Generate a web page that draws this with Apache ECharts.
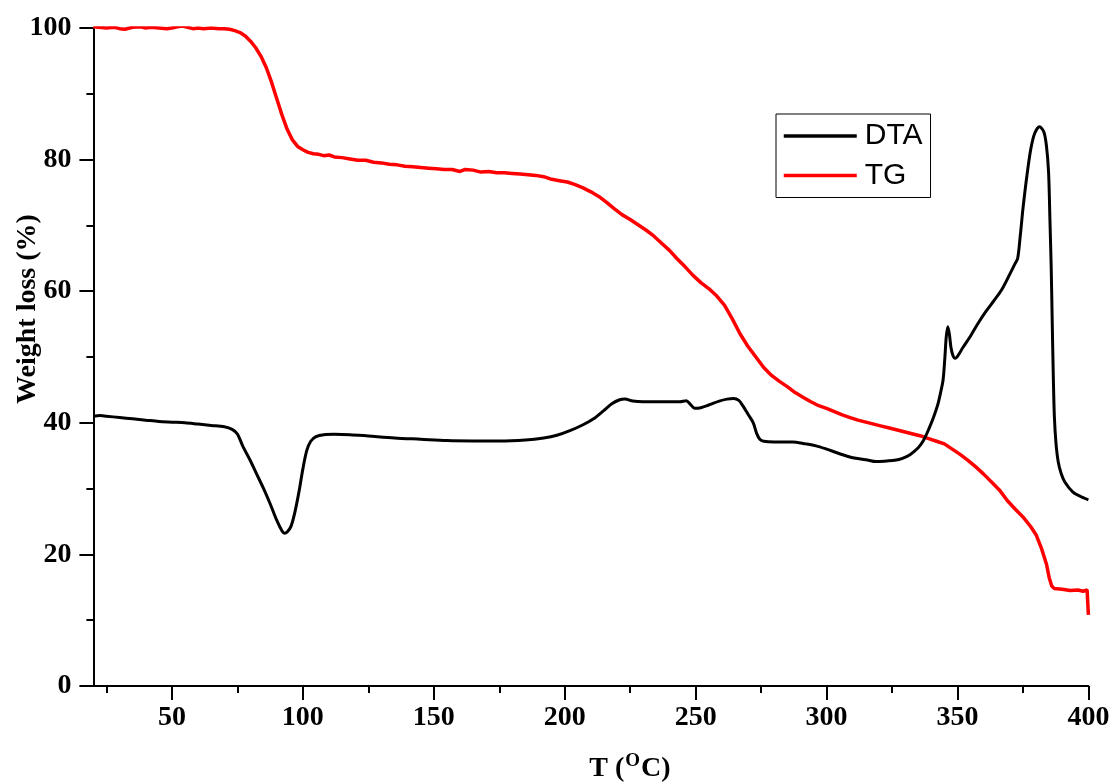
<!DOCTYPE html>
<html>
<head>
<meta charset="utf-8">
<script src="https://cdn.jsdelivr.net/npm/echarts@6/dist/echarts.min.js"></script>
<style>html,body{margin:0;padding:0;background:#fff}#c{width:1114px;height:782px}</style>
</head>
<body>
<div id="c"></div>
<script>
const xMajorTicks = [50, 100, 150, 200, 250, 300, 350, 400];
const xMinorTicks = [25, 75, 125, 175, 225, 275, 325, 375];
const seriesNames = ['DTA', 'TG'];

const dtaX = [20,22.5,25,30,35,40,45,50,55,60,65,70,73,75,77,80,82,85,87.5,90,92,93,94,95.5,97,98.5,100,101.5,103,105,108,112,118,125,135,145,155,165,175,185,192,197,202,207,211,215,218,221,223,226,230,235,240,244,246.4,248,249.6,252,255,259,262,264.5,266.5,268,270,272,273.3,274.5,276,280,287,292,296,300,305,310,315,319,323,326,329,332,335,337,339,341,342.5,343.5,344.5,345.2,345.7,346.3,346.9,347.5,348.3,349.2,350.5,352,355,358,361,364,367,370,372,373,374,375,376.5,378,379.5,381.3,383,384,384.8,385.3,385.8,386.2,386.6,387,387.6,388.5,389.6,391,394,397,400];
const dtaY = [41.0,41.1,41.0,40.8,40.6,40.4,40.2,40.1,40.0,39.8,39.6,39.4,39.0,38.3,36.5,34.2,32.5,30.0,27.7,25.2,23.6,23.2,23.4,24.3,26.5,29.5,33.0,35.8,37.2,37.9,38.2,38.25,38.2,38.0,37.7,37.5,37.3,37.25,37.25,37.4,37.7,38.1,38.8,39.7,40.6,41.9,42.9,43.5,43.6,43.3,43.2,43.2,43.2,43.2,43.35,42.8,42.2,42.3,42.7,43.3,43.6,43.7,43.4,42.6,41.3,40.0,38.4,37.5,37.2,37.1,37.1,36.8,36.5,36.0,35.3,34.7,34.4,34.1,34.2,34.3,34.6,35.2,36.2,37.3,39.0,41.0,42.8,44.5,46.5,50.0,53.0,54.6,53.5,51.5,50.2,49.8,50.4,51.4,53.2,55.2,57.0,58.6,60.3,62.6,64.2,65.0,68.5,72.5,77.5,81.6,84.0,85.0,84.2,82.0,78.0,71.0,63.5,55.0,47.0,41.0,37.0,34.0,32.3,31.0,29.5,28.8,28.3];

const tgX = [20,22,25,28,30,32,35,38,40,42,45,48,50,52,54,56,58,60,62,65,68,70,72,74,76,78,80,82,84,86,88,90,92,94,96,98,100,102,104,106,108,110,112,115,118,121,124,127,130,133,136,139,142,145,148,151,154,157,160,162,165,168,171,174,177,180,183,186,189,192,195,198,201,204,207,210,213,216,219,222,225,228,231,234,237,240,243,246,249,252,255,258,261,264,267,270,273,276,279,282,285,288,291,294,297,300,303,306,309,312,315,318,321,324,327,330,333,336,339,342,345,348,351,354,357,360,363,366,369,372,375,378,380,382,384,385,386,387,390,393,396,398,399.5,400];
const tgY = [100.2,100.1,100.0,100.1,99.9,99.8,100.1,100.2,100.0,100.1,100.0,99.9,100.0,100.2,100.3,100.1,99.9,100.0,99.9,100.0,99.9,99.9,99.8,99.6,99.3,98.8,98.0,97.0,95.7,94.0,91.8,89.3,86.8,84.6,83.0,82.0,81.5,81.1,80.9,80.8,80.6,80.7,80.4,80.3,80.1,79.9,79.9,79.6,79.5,79.3,79.2,79.0,78.9,78.8,78.7,78.6,78.5,78.5,78.2,78.5,78.4,78.1,78.2,78.0,78.0,77.9,77.8,77.7,77.6,77.4,77.0,76.8,76.6,76.2,75.7,75.1,74.4,73.5,72.5,71.6,70.9,70.1,69.3,68.4,67.3,66.2,64.9,63.7,62.4,61.3,60.4,59.3,57.9,55.8,53.5,51.6,50.0,48.4,47.2,46.3,45.5,44.6,43.9,43.2,42.6,42.2,41.7,41.2,40.8,40.4,40.1,39.8,39.5,39.2,38.9,38.6,38.3,38.0,37.6,37.2,36.8,36.0,35.2,34.3,33.3,32.2,31.0,29.8,28.2,26.9,25.7,24.2,23.0,21.0,18.5,16.5,15.2,14.8,14.7,14.5,14.6,14.4,14.6,10.8];

const serif = 'Liberation Serif';
const sans = 'Liberation Sans';
const pair = (xs, ys) => xs.map((x, i) => [x, ys[i]]);

const chart = echarts.init(document.getElementById('c'), null, {renderer: 'canvas'});
chart.setOption({
  animation: false,
  backgroundColor: '#fff',
  grid: {left: 93.4, right: 25.6, top: 28, bottom: 96, containLabel: false, outerBoundsMode: 'none'},
  legend: {
    orient: 'vertical',
    left: 776, top: 114,
    padding: [7, 8, 7, 6],
    itemGap: 9.5,
    itemWidth: 73, itemHeight: 20,
    borderColor: '#000', borderWidth: 1,
    itemStyle: {opacity: 0},
    lineStyle: {width: 3.5},
    textStyle: {fontFamily: sans, fontSize: 30, color: '#000', padding: [0, 0, 0, 3]},
    data: seriesNames
  },
  xAxis: [{
    type: 'value', min: 20, max: 400,
    name: '{a|T (}{s|O}{a|C)}',
    nameLocation: 'middle', nameGap: 66, nameMoveOverlap: false,
    nameTextStyle: {padding: [0, 0, 0, 78], rich: {
      a: {fontFamily: serif, fontWeight: 'bold', fontSize: 28, color: '#000', lineHeight: 34},
      s: {fontFamily: serif, fontWeight: 'bold', fontSize: 19, color: '#000', verticalAlign: 'top', lineHeight: 34, padding: [0, 1, 14, 1]}
    }},
    axisLine: {lineStyle: {color: '#000', width: 2}},
    axisTick: {show: true, length: 14, lineStyle: {color: '#000', width: 2}, customValues: xMajorTicks},
    axisLabel: {margin: 18, fontFamily: serif, fontWeight: 'bold', fontSize: 28, color: '#000', customValues: xMajorTicks},
    splitLine: {show: false}
  }, {
    type: 'value', min: 20, max: 400, position: 'bottom',
    axisLine: {show: false},
    axisTick: {show: true, length: 7, lineStyle: {color: '#000', width: 2}, customValues: xMinorTicks},
    axisLabel: {show: false},
    splitLine: {show: false}
  }],
  yAxis: {
    type: 'value', min: 0, max: 100, interval: 20,
    name: 'Weight loss (%)',
    nameLocation: 'middle', nameGap: 52, nameMoveOverlap: false,
    nameTextStyle: {fontFamily: serif, fontWeight: 'bold', fontSize: 28, color: '#000', padding: [0, 0, 0, 96]},
    axisLine: {show: true, lineStyle: {color: '#000', width: 2}},
    axisTick: {show: true, length: 14, lineStyle: {color: '#000', width: 2}},
    minorTick: {show: true, splitNumber: 2, length: 7, lineStyle: {color: '#000', width: 2}},
    axisLabel: {margin: 22, fontFamily: serif, fontWeight: 'bold', fontSize: 28, color: '#000'},
    splitLine: {show: false}, minorSplitLine: {show: false}
  },
  series: [{
    name: seriesNames[0], type: 'line', symbol: 'none', smooth: 0.3,
    lineStyle: {color: '#000', width: 3}, itemStyle: {color: '#000'},
    data: pair(dtaX, dtaY), z: 3
  }, {
    name: seriesNames[1], type: 'line', symbol: 'none',
    lineStyle: {color: '#ff0000', width: 3.5}, itemStyle: {color: '#ff0000'},
    data: pair(tgX, tgY), z: 2
  }]
});
</script>
</body>
</html>
